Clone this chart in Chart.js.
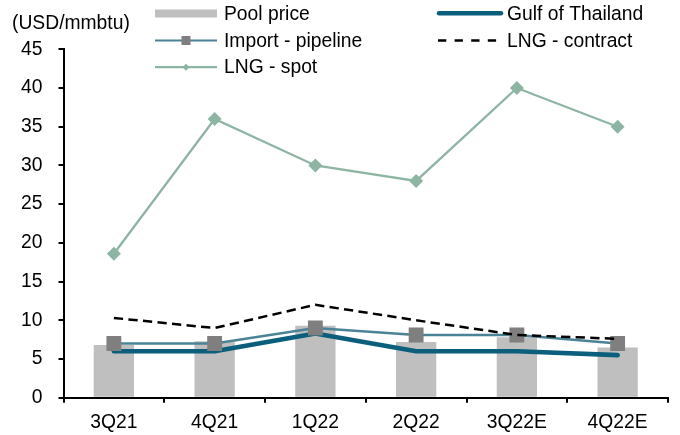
<!DOCTYPE html>
<html>
<head>
<meta charset="utf-8">
<script src="https://cdn.jsdelivr.net/npm/chart.js@4.4.1/dist/chart.umd.min.js"></script>
<style>
  html, body { margin: 0; padding: 0; background: #fff; }
  #wrap { width: 680px; height: 435px; position: relative; }
</style>
</head>
<body>
<div id="wrap"><canvas id="c" width="680" height="435"></canvas></div>
<script>
// Quarterly gas prices, USD/mmbtu
const quarters = ['3Q21', '4Q21', '1Q22', '2Q22', '3Q22E', '4Q22E'];
const poolPrice = [6.8, 7.3, 9.3, 7.2, 7.8, 6.5];
const gulfOfThailand = [6.0, 6.0, 8.3, 6.0, 6.0, 5.5];
const importPipeline = [7.0, 7.0, 9.0, 8.1, 8.1, 7.0];
const lngContract = [10.3, 9.0, 12.0, 10.0, 8.1, 7.6];
const lngSpot = [18.6, 36, 30, 28, 40, 35];
const yTicks = [0, 5, 10, 15, 20, 25, 30, 35, 40, 45];

const FONT = "'Liberation Sans', Arial, sans-serif";
const FS = 19.3;

const C = {
  pool: '#bfbfbf',
  gulf: '#0b5f7c',
  pipe: '#4a8396',
  square: '#7f7f7f',
  contract: '#000000',
  spot: '#8eb4a4'
};

// Two-column legend and unit caption drawn on the canvas
const legendPlugin = {
  id: 'sideLegend',
  afterDraw(chart) {
    const ctx = chart.ctx;
    ctx.save();
    ctx.font = FS + 'px ' + FONT;
    ctx.fillStyle = '#000';
    ctx.textBaseline = 'alphabetic';
    ctx.textAlign = 'left';

    ctx.fillText('(USD/mmbtu)', 12, 29);

    const rows = [19.8, 46.5, 73.2];
    const c1 = { x0: 155, x1: 217, tx: 224 };
    const c2 = { x0: 437, x1: 503, tx: 507 };

    // Pool price
    let y = rows[0] - 6.3;
    ctx.fillStyle = C.pool;
    ctx.fillRect(c1.x0, y - 4, c1.x1 - c1.x0, 8);
    ctx.fillStyle = '#000';
    ctx.fillText('Pool price', c1.tx, rows[0]);

    // Import - pipeline
    y = rows[1] - 6;
    ctx.strokeStyle = C.pipe;
    ctx.lineWidth = 2.2;
    ctx.beginPath(); ctx.moveTo(c1.x0, y); ctx.lineTo(c1.x1, y); ctx.stroke();
    ctx.fillStyle = C.square;
    const mx = (c1.x0 + c1.x1) / 2;
    ctx.fillRect(mx - 4.5, y - 4.5, 9, 9);
    ctx.fillStyle = '#000';
    ctx.fillText('Import - pipeline', c1.tx, rows[1]);

    // LNG - spot
    y = rows[2] - 6;
    ctx.strokeStyle = C.spot;
    ctx.lineWidth = 2.2;
    ctx.beginPath(); ctx.moveTo(c1.x0, y); ctx.lineTo(c1.x1, y); ctx.stroke();
    ctx.fillStyle = C.spot;
    ctx.beginPath();
    ctx.moveTo(mx, y - 3.5); ctx.lineTo(mx + 3.5, y); ctx.lineTo(mx, y + 3.5); ctx.lineTo(mx - 3.5, y);
    ctx.closePath(); ctx.fill();
    ctx.fillStyle = '#000';
    ctx.fillText('LNG - spot', c1.tx, rows[2]);

    // Gulf of Thailand
    y = rows[0] - 6.5;
    ctx.strokeStyle = C.gulf;
    ctx.lineWidth = 4.5;
    ctx.lineCap = 'round';
    ctx.beginPath(); ctx.moveTo(c2.x0 + 2, y); ctx.lineTo(c2.x1 - 2, y); ctx.stroke();
    ctx.lineCap = 'butt';
    ctx.fillStyle = '#000';
    ctx.fillText('Gulf of Thailand', c2.tx, rows[0]);

    // LNG - contract
    y = rows[1] - 6;
    ctx.strokeStyle = C.contract;
    ctx.lineWidth = 2.5;
    ctx.setLineDash([8.3, 8.3]);
    ctx.beginPath(); ctx.moveTo(c2.x0 + 1, y); ctx.lineTo(c2.x0 + 1 + 8.3 * 7, y); ctx.stroke();
    ctx.setLineDash([]);
    ctx.fillText('LNG - contract', c2.tx, rows[1]);

    ctx.restore();
  }
};

new Chart(document.getElementById('c'), {
  data: {
    labels: quarters,
    datasets: [
      {
        type: 'line', label: 'LNG - spot', data: lngSpot, order: 1,
        borderColor: C.spot, borderWidth: 2.3, tension: 0,
        pointStyle: 'rectRot', pointRadius: 7, pointHoverRadius: 7,
        pointBackgroundColor: C.spot, pointBorderColor: C.spot, pointBorderWidth: 0
      },
      {
        type: 'line', label: 'LNG - contract', data: lngContract, order: 2,
        borderColor: C.contract, borderWidth: 2.5, borderDash: [9.3, 5.3], tension: 0,
        pointRadius: 0, pointHoverRadius: 0
      },
      {
        type: 'line', label: 'Import - pipeline', data: importPipeline, order: 3,
        borderColor: C.pipe, borderWidth: 2.3, tension: 0,
        pointStyle: 'rect', pointRadius: 10.5, pointHoverRadius: 10.5,
        pointBackgroundColor: C.square, pointBorderColor: C.square, pointBorderWidth: 0
      },
      {
        type: 'line', label: 'Gulf of Thailand', data: gulfOfThailand, order: 4,
        borderColor: C.gulf, borderWidth: 4.7, tension: 0, borderCapStyle: 'round', borderJoinStyle: 'round',
        pointRadius: 0, pointHoverRadius: 0
      },
      {
        type: 'bar', label: 'Pool price', data: poolPrice, order: 5,
        backgroundColor: C.pool, borderWidth: 0,
        barPercentage: 0.4, categoryPercentage: 1.0
      }
    ]
  },
  options: {
    responsive: false,
    animation: false,
    events: [],
    layout: { padding: { top: 49.3, right: 12, bottom: 0, left: 0 } },
    plugins: { legend: { display: false }, tooltip: { enabled: false }, title: { display: false } },
    scales: {
      x: {
        type: 'category',
        offset: true,
        grid: { display: true, offset: true, drawOnChartArea: false, drawTicks: true, tickLength: 5, color: '#000', lineWidth: 2 },
        border: { display: true, color: '#000', width: 2 },
        ticks: { color: '#000', font: { family: FONT, size: FS }, padding: 8, maxRotation: 0, autoSkip: false },
        afterFit(scale) { scale.height = 37.3; }
      },
      y: {
        type: 'linear',
        min: 0, max: 45,
        afterBuildTicks(scale) { scale.ticks = yTicks.map(v => ({ value: v })); },
        grid: { display: true, drawOnChartArea: false, drawTicks: true, tickLength: 5, color: '#000', lineWidth: 2 },
        border: { display: true, color: '#000', width: 2 },
        ticks: { color: '#000', font: { family: FONT, size: FS }, padding: 16 },
        afterFit(scale) { scale.width = 63.5; }
      }
    }
  },
  plugins: [legendPlugin]
});
</script>
</body>
</html>
